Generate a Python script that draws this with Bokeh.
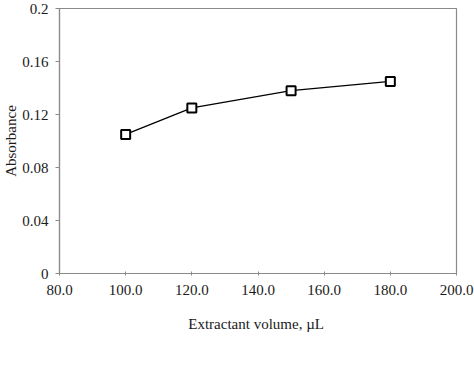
from bokeh.plotting import figure
from bokeh.embed import file_html
from bokeh.resources import INLINE
from bokeh.models import Range1d, FixedTicker, CustomJSTickFormatter

volume = [100, 120, 150, 180]
absorbance = [0.105, 0.125, 0.138, 0.145]
x_ticks = [80, 100, 120, 140, 160, 180, 200]
y_ticks = [0, 0.04, 0.08, 0.12, 0.16, 0.2]

FONT = "Liberation Serif"
AXIS_COLOR = "#8a8a8a"
TEXT_COLOR = "#1a1a1a"

p = figure(width=474, height=390, output_backend="svg", toolbar_location=None,
           x_range=Range1d(80, 200), y_range=Range1d(0, 0.2),
           min_border_left=56, min_border_right=18, min_border_top=8, min_border_bottom=117)
p.outline_line_color = AXIS_COLOR
p.outline_line_width = 1.2
p.background_fill_color = "white"
p.border_fill_color = "white"
p.grid.visible = False

p.line(volume, absorbance, line_color="black", line_width=1.3)
p.scatter(volume, absorbance, marker="square", size=9, fill_color="white",
          line_color="black", line_width=2)

p.xaxis.ticker = FixedTicker(ticks=x_ticks)
p.xaxis.formatter = CustomJSTickFormatter(code="return tick.toFixed(1);")
p.yaxis.ticker = FixedTicker(ticks=y_ticks)
p.yaxis.formatter = CustomJSTickFormatter(code="return tick === 0 ? '0' : String(+tick.toFixed(2));")

for ax in (p.xaxis[0], p.yaxis[0]):
    ax.axis_line_color = AXIS_COLOR
    ax.axis_line_width = 1.2
    ax.major_tick_line_color = AXIS_COLOR
    ax.minor_tick_line_color = None
    ax.major_label_text_font = FONT
    ax.major_label_text_font_size = "15px"
    ax.major_label_text_color = TEXT_COLOR
    ax.axis_label_text_font = FONT
    ax.axis_label_text_font_size = "15px"
    ax.axis_label_text_font_style = "normal"
    ax.axis_label_text_color = TEXT_COLOR

p.xaxis.major_tick_in = 2
p.xaxis.major_tick_out = 2
p.yaxis.major_tick_in = 0
p.yaxis.major_tick_out = 4
p.xaxis.major_label_standoff = 9
p.yaxis.major_label_standoff = 7
p.xaxis.axis_label = "Extractant  volume, µL"
p.yaxis.axis_label = "Absorbance"
p.xaxis.axis_label_standoff = 18
p.yaxis.axis_label_standoff = 0

open("out.html", "w").write(file_html(p, INLINE))
